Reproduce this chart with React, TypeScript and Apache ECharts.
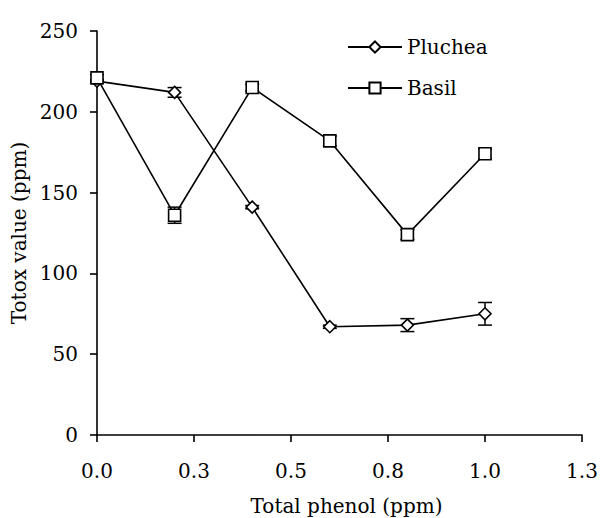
import React, { useEffect, useRef } from "react";
import * as echarts from "echarts";

const xValues = [0, 0.2, 0.4, 0.6, 0.8, 1.0];
const plucheaValues = [219, 212, 141, 67, 68, 75];
const plucheaErrors = [1, 3, 1, 1, 4, 7];
const basilValues = [221, 136, 215, 182, 124, 174];
const basilErrors = [2, 5, 2, 3, 3, 3];
const xTickLabels = ["0.0", "0.3", "0.5", "0.8", "1.0", "1.3"];
const seriesNames = ["Pluchea", "Basil"];

const FONT = "DejaVu Serif";
const FS = 20;

function errorSeries(values: number[], errors: number[], name: string) {
  const data = xValues.map((x, i) => [x, values[i], errors[i]]);
  return {
    type: "custom",
    name: name + " err",
    silent: true,
    z: 1,
    renderItem: (params: any, api: any) => {
      const x = api.value(0);
      const y = api.value(1);
      const e = api.value(2);
      const top = api.coord([x, y + e]);
      const bot = api.coord([x, y - e]);
      const hw = 7;
      const style = { stroke: "#000", lineWidth: 1.5 };
      return {
        type: "group",
        children: [
          { type: "line", shape: { x1: top[0], y1: top[1], x2: bot[0], y2: bot[1] }, style },
          { type: "line", shape: { x1: top[0] - hw, y1: top[1], x2: top[0] + hw, y2: top[1] }, style },
          { type: "line", shape: { x1: bot[0] - hw, y1: bot[1], x2: bot[0] + hw, y2: bot[1] }, style },
        ],
      };
    },
    data,
  };
}

export default function App() {
  const ref = useRef<HTMLDivElement>(null);
  useEffect(() => {
    document.body.style.margin = "0";
    const chart = echarts.init(ref.current!, null, { renderer: "svg" });
    const lineStyle = { color: "#000", width: 1.6 };
    const itemStyle = { color: "#fff", borderColor: "#000", borderWidth: 1.6 };
    chart.setOption({
      animation: false,
      backgroundColor: "#fff",
      textStyle: { fontFamily: FONT, color: "#000" },
      grid: { left: 97, right: 18, top: 31, bottom: 83, outerBoundsMode: "none", containLabel: false },
      legend: {
        orient: "vertical",
        left: 342,
        top: 32,
        itemWidth: 54,
        itemHeight: 14,
        itemGap: 21,
        data: seriesNames,
        textStyle: { fontFamily: FONT, fontSize: FS, color: "#000" },
      },
      xAxis: {
        type: "value",
        min: 0,
        max: 1.25,
        interval: 0.25,
        name: "Total phenol (ppm)",
        nameLocation: "middle",
        nameGap: 61,
        nameTextStyle: { fontFamily: FONT, fontSize: FS, color: "#000", padding: [0, 0, 0, 14] },
        axisLine: { lineStyle: { color: "#000", width: 1.6 } },
        axisTick: { show: true, length: 7, lineStyle: { color: "#000", width: 1.6 } },
        axisLabel: {
          fontFamily: FONT,
          fontSize: FS,
          color: "#000",
          margin: 26,
          formatter: (v: number) => xTickLabels[Math.round(v / 0.25)] ?? "",
        },
        splitLine: { show: false },
      },
      yAxis: {
        type: "value",
        min: 0,
        max: 250,
        interval: 50,
        name: "Totox value (ppm)",
        nameLocation: "middle",
        nameGap: 65,
        nameTextStyle: { fontFamily: FONT, fontSize: FS, color: "#000" },
        axisLine: { show: true, lineStyle: { color: "#000", width: 1.6 } },
        axisTick: { show: true, length: 7, lineStyle: { color: "#000", width: 1.6 } },
        axisLabel: { fontFamily: FONT, fontSize: FS, color: "#000", margin: 19 },
        splitLine: { show: false },
      },
      series: [
        errorSeries(plucheaValues, plucheaErrors, "Pluchea"),
        errorSeries(basilValues, basilErrors, "Basil"),
        {
          type: "line",
          name: "Pluchea",
          z: 2,
          symbol: "diamond",
          symbolSize: 12,
          showAllSymbol: true,
          lineStyle,
          itemStyle,
          data: xValues.map((x, i) => [x, plucheaValues[i]]),
        },
        {
          type: "line",
          name: "Basil",
          z: 3,
          symbol: "rect",
          symbolSize: 12,
          showAllSymbol: true,
          lineStyle,
          itemStyle,
          data: xValues.map((x, i) => [x, basilValues[i]]),
        },
      ],
    });
    return () => chart.dispose();
  }, []);
  return <div ref={ref} style={{ width: 600, height: 518 }} />;
}
